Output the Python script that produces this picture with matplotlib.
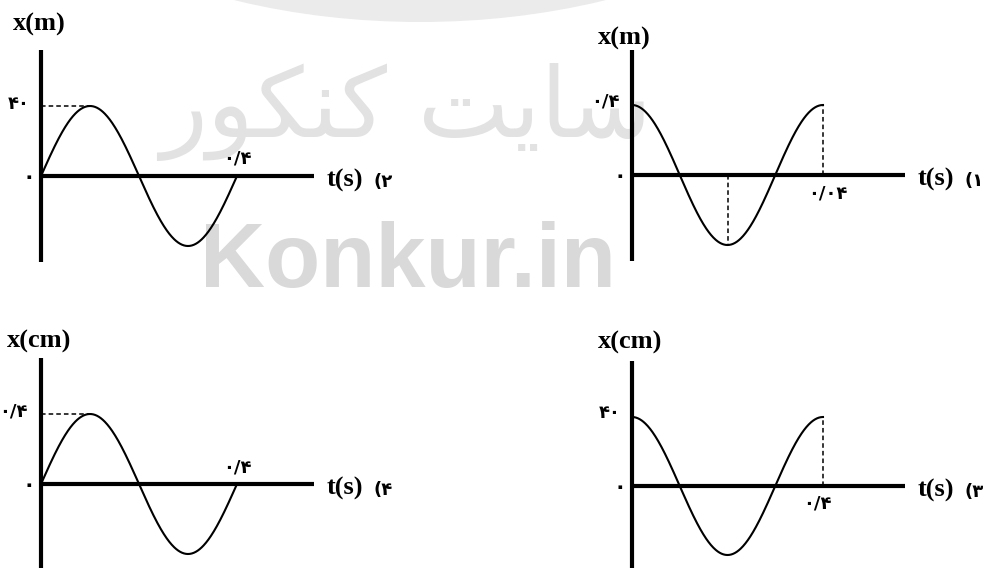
import matplotlib.pyplot as plt
import numpy as np
from matplotlib.patches import Circle

# chart content, one entry per option (top-left, top-right, bottom-left, bottom-right)
option_numbers = ["۲", "۱", "۴", "۳"]
amplitudes = [40, 0.4, 0.4, 40]
periods = [0.4, 0.04, 0.4, 0.4]
y_titles = ["x(m)", "x(m)", "x(cm)", "x(cm)"]
x_title = "t(s)"
start_shapes = ["sin", "cos", "sin", "cos"]
amp_labels = ["۴۰", "۰/۴", "۰/۴", "۴۰"]
period_labels = ["۰/۴", "۰/۰۴", "۰/۴", "۰/۴"]
zero_label = "۰"

# watermark text, already in shaped visual order
watermark_fa = "\ufead\ufeee\ufedc\ufee8\ufedb \ufe96\ufef3\ufe8e\ufeb3"
watermark_en = "Konkur.in"

# layout in pixels: origin x, origin y, right end, top end, bottom end, px per period, px per amplitude
layout = [
    (41, 176, 314, 50, 262, 196, 70),
    (632, 175, 905, 50, 261, 191, 70),
    (41, 484, 314, 358, 575, 196, 70),
    (632, 486, 905, 361, 575, 191, 69),
]
# offsets in pixels for the y title (left edge, centre) from the top of the y axis
title_offsets = [(-28, 26), (-34, 12), (-34, 17), (-34, 19)]

W, H = 984, 568
fig = plt.figure(figsize=(W / 100, H / 100), dpi=100)
fig.patch.set_facecolor("white")

# watermark behind everything
fig.patches.append(Circle((420 / W, 1 + 252 / H), 274 / H, transform=fig.transFigure,
                          facecolor="#ebebeb", edgecolor="none", zorder=-5))
fig.text(406 / W, 1 - 112 / H, watermark_fa, fontsize=70, color="#e2e2e2",
         family="DejaVu Sans", ha="center", va="center", zorder=-4)
fig.text(408 / W, 1 - 287 / H, watermark_en, fontsize=65, color="#d9d9d9",
         family="Liberation Sans", weight="bold", ha="center", va="baseline", zorder=-4)

fa_font = dict(family="DejaVu Sans", weight="bold")
en_font = dict(family="Liberation Serif", weight="bold")
dash = (0, (3, 2))

for i in range(4):
    ox, oy, right, top, bottom, per_px, amp_px = layout[i]
    T = periods[i]
    A = amplitudes[i]
    ax = fig.add_axes([ox / W, 1 - bottom / H, (right - ox) / W, (bottom - top) / H])
    ax.set_facecolor("none")
    ax.set_xlim(0, T * (right - ox) / per_px)
    ax.set_ylim(-A * (bottom - oy) / amp_px, A * (oy - top) / amp_px)
    for side in ["top", "right"]:
        ax.spines[side].set_visible(False)
    ax.spines["bottom"].set_position(("data", 0))
    for side in ["left", "bottom"]:
        ax.spines[side].set_linewidth(3.0)
        ax.spines[side].set_capstyle("butt")
    ax.set_xticks([])
    ax.set_yticks([])

    t = np.linspace(0, T, 400)
    if start_shapes[i] == "sin":
        x = A * np.sin(2 * np.pi * t / T)
    else:
        x = A * np.cos(2 * np.pi * t / T)
    ax.plot(t, x, color="black", linewidth=1.5, clip_on=False)

    # dashed guide lines and value labels
    if start_shapes[i] == "sin":
        ax.plot([0, T / 4], [A, A], color="black", linewidth=1.1, linestyle=dash)
        ax.annotate(amp_labels[i], xy=(0, A), xytext=(-22 if i == 0 else -28, 2),
                    textcoords="offset pixels", ha="center", va="center", fontsize=13, **fa_font)
        ax.annotate(period_labels[i], xy=(T, 0), xytext=(0, 17),
                    textcoords="offset pixels", ha="center", va="center", fontsize=13, **fa_font)
    else:
        ax.plot([T, T], [0, A], color="black", linewidth=1.1, linestyle=dash)
        if i == 1:
            ax.plot([T / 2, T / 2], [0, -A], color="black", linewidth=1.1, linestyle=dash)
        ax.annotate(amp_labels[i], xy=(0, A), xytext=(-27 if i == 1 else -22, 4),
                    textcoords="offset pixels", ha="center", va="center", fontsize=13, **fa_font)
        ax.annotate(period_labels[i], xy=(T, 0), xytext=(5 if i == 1 else -6, -18),
                    textcoords="offset pixels", ha="center", va="center", fontsize=13, **fa_font)

    ax.annotate(zero_label, xy=(0, 0), xytext=(-12, -1), textcoords="offset pixels",
                ha="center", va="center", fontsize=15, **fa_font)

    # axis titles
    ax.annotate(y_titles[i], xy=(0, 1), xycoords="axes fraction", xytext=title_offsets[i],
                textcoords="offset pixels", ha="left", va="center", fontsize=19, **en_font)
    ax.annotate(x_title, xy=(1, 0), xycoords=("axes fraction", "data"), xytext=(13, -4),
                textcoords="offset pixels", ha="left", va="center", fontsize=19, **en_font)
    ax.annotate("(" + option_numbers[i], xy=(1, 0), xycoords=("axes fraction", "data"),
                xytext=(59, -6), textcoords="offset pixels", ha="left", va="center",
                fontsize=13, **fa_font)

fig.savefig("out.png", dpi=100)
